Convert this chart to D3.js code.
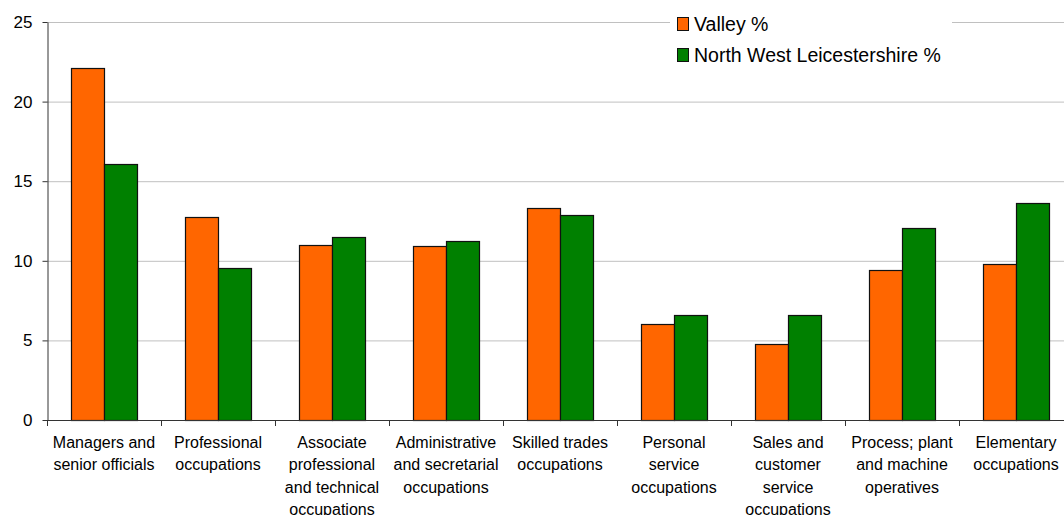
<!DOCTYPE html>
<html>
<head>
<meta charset="utf-8">
<script src="https://cdn.jsdelivr.net/npm/d3@7"></script>
<style>
  body { margin: 0; background: #fff; }
  svg { display: block; font-family: "Liberation Sans", Arial, sans-serif; }
</style>
</head>
<body>
<svg width="1064" height="515"></svg>
<script>
// data
var categories = [
  "Managers and\nsenior officials",
  "Professional\noccupations",
  "Associate\nprofessional\nand technical\noccupations",
  "Administrative\nand secretarial\noccupations",
  "Skilled trades\noccupations",
  "Personal\nservice\noccupations",
  "Sales and\ncustomer\nservice\noccupations",
  "Process; plant\nand machine\noperatives",
  "Elementary\noccupations"
];
var seriesNames = ["Valley %", "North West Leicestershire %"];
var valley = [22.1, 12.75, 11.0, 10.95, 13.3, 6.05, 4.8, 9.45, 9.8];
var nwLeics = [16.1, 9.55, 11.5, 11.25, 12.85, 6.6, 6.6, 12.05, 13.6];
var yTicks = [0, 5, 10, 15, 20, 25];
var colors = ["#ff6600", "#008000"];

var svg = d3.select("svg");
var plotLeft = 47, plotRight = 1073, plotTop = 22, plotBottom = 420;

var x = d3.scaleBand()
  .domain(categories)
  .range([plotLeft, plotRight])
  .paddingInner(0.421)
  .paddingOuter(0.2105);

var xs = d3.scaleBand()
  .domain(d3.range(seriesNames.length))
  .range([0, x.bandwidth()]);

var y = d3.scaleLinear().domain([0, 25]).range([plotBottom, plotTop]);

// gridlines
svg.append("g")
  .selectAll("line")
  .data(yTicks.filter(function(d) { return d > 0; }))
  .join("line")
  .attr("x1", plotLeft)
  .attr("x2", 1064)
  .attr("y1", function(d) { return y(d) + 0.5; })
  .attr("y2", function(d) { return y(d) + 0.5; })
  .attr("stroke", "#c0c0c0")
  .attr("stroke-width", 1);

// bars
var series = [valley, nwLeics];
var groups = svg.append("g")
  .selectAll("g")
  .data(categories)
  .join("g")
  .attr("transform", function(d) { return "translate(" + x(d) + ",0)"; });

groups.selectAll("rect")
  .data(function(d, i) {
    return series.map(function(s, k) { return { k: k, v: s[i] }; });
  })
  .join("rect")
  .attr("x", function(d) { return xs(d.k) + 0.5; })
  .attr("width", xs.bandwidth())
  .attr("y", function(d) { return Math.round(y(d.v)) + 0.5; })
  .attr("height", function(d) { return plotBottom - Math.round(y(d.v)); })
  .attr("fill", function(d) { return colors[d.k]; })
  .attr("stroke", "#111")
  .attr("stroke-width", 1.2);

// y axis
var yAxis = svg.append("g")
  .attr("transform", "translate(" + (plotLeft + 0.5) + ",0)")
  .call(d3.axisLeft(y).tickValues(yTicks).tickSize(5).tickPadding(10).tickSizeOuter(0));
yAxis.select(".domain").attr("stroke", "#333");
yAxis.selectAll(".tick line").attr("stroke", "#333");
yAxis.selectAll(".tick text")
  .attr("font-size", 17)
  .attr("font-family", "Liberation Sans, Arial, sans-serif")
  .attr("fill", "#000");

// x axis line and ticks at category boundaries
var xAxisG = svg.append("g");
xAxisG.append("line")
  .attr("x1", plotLeft)
  .attr("x2", 1064)
  .attr("y1", plotBottom + 0.5)
  .attr("y2", plotBottom + 0.5)
  .attr("stroke", "#333");
xAxisG.selectAll("line.tick")
  .data(d3.range(categories.length + 1))
  .join("line")
  .attr("class", "tick")
  .attr("x1", function(i) { return plotLeft + i * x.step() + 0.5; })
  .attr("x2", function(i) { return plotLeft + i * x.step() + 0.5; })
  .attr("y1", plotBottom)
  .attr("y2", plotBottom + 6)
  .attr("stroke", "#333");

// category labels
var labels = xAxisG.selectAll("text.cat")
  .data(categories)
  .join("text")
  .attr("class", "cat")
  .attr("text-anchor", "middle")
  .attr("font-size", 16)
  .attr("fill", "#000")
  .attr("transform", function(d) {
    return "translate(" + (x(d) + x.bandwidth() / 2) + "," + (plotBottom + 28) + ")";
  });
labels.selectAll("tspan")
  .data(function(d) { return d.split("\n"); })
  .join("tspan")
  .attr("x", 0)
  .attr("dy", function(d, i) { return i === 0 ? 0 : 22.3; })
  .text(function(d) { return d; });

// legend
var legend = svg.append("g");
legend.append("rect")
  .attr("x", 670)
  .attr("y", 6)
  .attr("width", 282)
  .attr("height", 62)
  .attr("fill", "#fff");
var items = legend.selectAll("g.item")
  .data(seriesNames)
  .join("g")
  .attr("class", "item")
  .attr("transform", function(d, i) { return "translate(677," + (17 + i * 31) + ")"; });
items.append("rect")
  .attr("x", 0.5)
  .attr("y", 0.5)
  .attr("width", 11)
  .attr("height", 13)
  .attr("fill", function(d, i) { return colors[i]; })
  .attr("stroke", "#111");
items.append("text")
  .attr("x", 17)
  .attr("y", 14)
  .attr("font-size", 19.5)
  .attr("fill", "#000")
  .text(function(d) { return d; });
</script>
</body>
</html>
